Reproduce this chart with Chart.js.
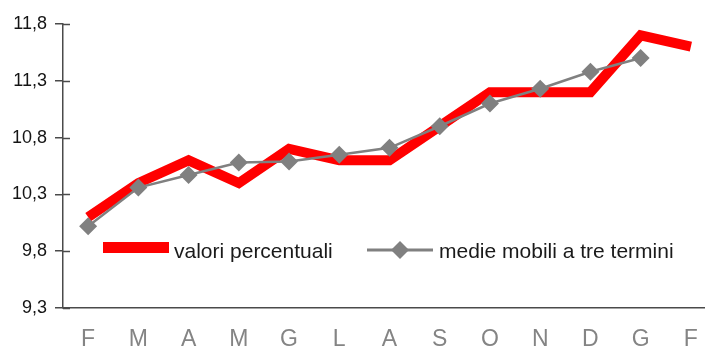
<!DOCTYPE html>
<html>
<head>
<meta charset="utf-8">
<script src="https://cdn.jsdelivr.net/npm/chart.js@4/dist/chart.umd.min.js"></script>
<style>
  html, body { margin: 0; padding: 0; background: #fff; overflow: hidden; }
  #chart { display: block; }
</style>
</head>
<body>
<canvas id="chart" width="716" height="350"></canvas>
<script>
// Months, February to February
const months = ['F', 'M', 'A', 'M', 'G', 'L', 'A', 'S', 'O', 'N', 'D', 'G', 'F'];

// Monthly percentage values
const valoriPercentuali = [10.1, 10.4, 10.6, 10.4, 10.7, 10.6, 10.6, 10.9, 11.2, 11.2, 11.2, 11.7, 11.6];

// Three-term moving averages (none for the last month)
const medieMobili = [10.02, 10.36, 10.47, 10.58, 10.59, 10.65, 10.71, 10.9, 11.1, 11.23, 11.38, 11.5, null];

// Vertical axis ticks
const yTicks = [9.3, 9.8, 10.3, 10.8, 11.3, 11.8];

const AXIS_COLOR = '#4a4a4a';
const RED = '#ff0000';
const GREY = '#808080';

// Short tick marks on the inner side of the vertical axis
const innerTicks = {
  id: 'innerTicks',
  afterDraw(chart) {
    const y = chart.scales.y;
    const ctx = chart.ctx;
    ctx.save();
    ctx.strokeStyle = AXIS_COLOR;
    ctx.lineWidth = 1.5;
    y.ticks.forEach((t, i) => {
      const py = Math.round(y.getPixelForTick(i)) + 0.5;
      ctx.beginPath();
      ctx.moveTo(chart.chartArea.left, py);
      ctx.lineTo(chart.chartArea.left + 7, py);
      ctx.stroke();
    });
    ctx.restore();
  }
};

// Legend drawn inside the plot area, one row
const innerLegend = {
  id: 'innerLegend',
  afterDraw(chart) {
    const ctx = chart.ctx;
    const area = chart.chartArea;
    const red = chart.data.datasets[1];
    const grey = chart.data.datasets[0];
    const baseY = area.top + 234;
    ctx.save();
    ctx.font = '21px "Liberation Sans", Arial, sans-serif';
    ctx.textBaseline = 'alphabetic';

    // red series entry
    let x = area.left + 40;
    ctx.fillStyle = red.borderColor;
    ctx.fillRect(x, baseY - 16, 66, 11);
    ctx.fillStyle = '#1a1a1a';
    ctx.fillText(red.label, x + 71, baseY);

    // grey series entry
    x = area.left + 304;
    const ly = baseY - 8;
    ctx.strokeStyle = grey.borderColor;
    ctx.lineWidth = 3;
    ctx.beginPath();
    ctx.moveTo(x, ly);
    ctx.lineTo(x + 66, ly);
    ctx.stroke();
    ctx.fillStyle = grey.pointBackgroundColor;
    const r = 9;
    const cx = x + 33;
    ctx.beginPath();
    ctx.moveTo(cx, ly - r);
    ctx.lineTo(cx + r, ly);
    ctx.lineTo(cx, ly + r);
    ctx.lineTo(cx - r, ly);
    ctx.closePath();
    ctx.fill();
    ctx.fillStyle = '#1a1a1a';
    ctx.fillText(grey.label, x + 72, baseY);
    ctx.restore();
  }
};

new Chart(document.getElementById('chart'), {
  type: 'line',
  data: {
    labels: months,
    datasets: [
      {
        label: 'medie mobili a tre termini',
        data: medieMobili,
        borderColor: GREY,
        backgroundColor: GREY,
        pointBackgroundColor: GREY,
        pointBorderColor: GREY,
        borderWidth: 2.5,
        pointStyle: 'rectRot',
        pointRadius: 9,
        pointBorderWidth: 0,
        tension: 0,
        order: 0
      },
      {
        label: 'valori percentuali',
        data: valoriPercentuali,
        borderColor: RED,
        backgroundColor: RED,
        borderWidth: 10,
        borderJoinStyle: 'miter',
        pointRadius: 0,
        tension: 0,
        order: 1
      }
    ]
  },
  options: {
    responsive: false,
    animation: false,
    events: [],
    layout: { autoPadding: false, padding: { top: 24, right: 0, bottom: 0, left: 0 } },
    plugins: {
      legend: { display: false },
      tooltip: { enabled: false }
    },
    scales: {
      x: {
        offset: true,
        grid: { display: false, drawTicks: false },
        border: { display: true, color: AXIS_COLOR, width: 1.5 },
        ticks: {
          color: '#848484',
          padding: 18,
          maxRotation: 0,
          autoSkip: false,
          font: { family: '"Liberation Sans Narrow", "Liberation Sans", Arial, sans-serif', size: 23 }
        },
        afterFit(scale) {
          scale.height = 42;
          scale.paddingLeft = 0;
          scale.paddingRight = 0;
        }
      },
      y: {
        min: 9.3,
        max: 11.8,
        afterBuildTicks(scale) { scale.ticks = yTicks.map(v => ({ value: v })); },
        grid: { drawOnChartArea: false, drawTicks: true, tickLength: 8, color: AXIS_COLOR, lineWidth: 1.5 },
        border: { display: true, color: AXIS_COLOR, width: 1.5 },
        ticks: {
          color: '#141414',
          padding: 8,
          font: { family: '"Liberation Sans", Arial, sans-serif', size: 18 },
          callback: (v) => Number(v).toFixed(1).replace('.', ',')
        },
        afterFit(scale) { scale.width = 63; }
      }
    }
  },
  plugins: [innerTicks, innerLegend]
});
</script>
</body>
</html>
